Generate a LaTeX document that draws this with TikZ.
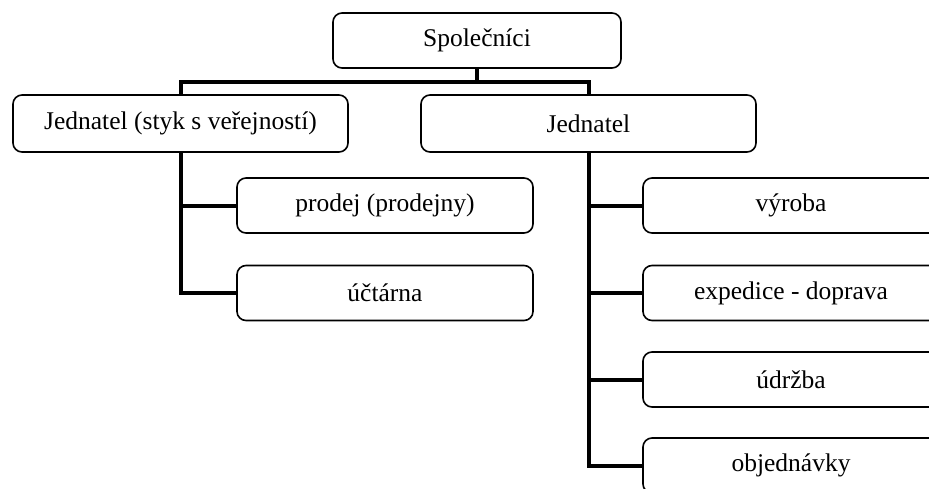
\documentclass[tikz,border=0pt]{standalone}
\usepackage{fontspec}
\setmainfont{Liberation Serif}
\begin{document}
\begin{tikzpicture}[x=1pt,y=-1pt,
  box/.style={draw=black,line width=1.6pt,rounded corners=9pt,fill=white,
    font=\fontsize{25.5}{30}\selectfont,inner sep=0pt,anchor=center},
  bigbox/.style={box,minimum width=335pt,minimum height=57pt},
  topbox/.style={box,minimum width=288pt,minimum height=55pt},
  smallbox/.style={box,minimum width=296pt,minimum height=55pt},
  conn/.style={draw=black,line width=4pt}]
\useasboundingbox (0,0) rectangle (929,488);
\clip (0,0) rectangle (929,488);
\node[topbox] (top) at (477,40.5) {Společníci};
\node[bigbox] (jl) at (180.5,123.5) {Jednatel (styk s veřejností)};
\node[bigbox] (jr) at (588.5,123.5) {Jednatel};
\node[smallbox] (prod) at (385,205.5) {prodej (prodejny)};
\node[smallbox] (ucet) at (385,293) {účtárna};
\node[smallbox] (vyr) at (791,205.5) {výroba};
\node[smallbox] (exp) at (791,293) {expedice - doprava};
\node[smallbox] (udr) at (791,379.5) {údržba};
\node[smallbox] (obj) at (791,465.5) {objednávky};
\coordinate (bus) at (477,82);
\draw[conn] (top.south) -- (bus);
\draw[conn] (jl.north) -- (jl.north |- bus) -- (jr.north |- bus) -- (jr.north);
\draw[conn] (jl.south) |- (ucet.west);
\draw[conn] (jl.south |- prod.west) -- (prod.west);
\draw[conn] (jr.south) |- (obj.west);
\draw[conn] (jr.south |- vyr.west) -- (vyr.west);
\draw[conn] (jr.south |- exp.west) -- (exp.west);
\draw[conn] (jr.south |- udr.west) -- (udr.west);
\end{tikzpicture}
\end{document}
